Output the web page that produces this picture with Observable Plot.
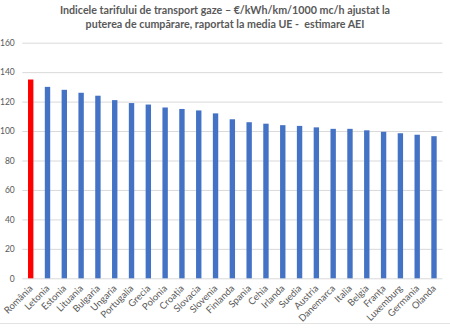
<!DOCTYPE html>
<html>
<head>
<meta charset="utf-8">
<script src="https://cdn.jsdelivr.net/npm/d3@7"></script>
<script src="https://cdn.jsdelivr.net/npm/@observablehq/plot@0.6"></script>
<style>
  html, body { margin: 0; padding: 0; background: #fff; }
  #wrap { position: relative; width: 450px; height: 328px; overflow: hidden; font-family: Lato, "Open Sans", sans-serif; }
  #title { height: 34px; box-sizing: border-box; padding-top: 3px; text-align: center; color: #595959; font-weight: bold; font-size: 10.7px; line-height: 14px; }
  #bottomline { position: absolute; left: 0; width: 450px; top: 323px; height: 1px; background: #e3e3e3; }
</style>
</head>
<body>
<div id="wrap">
  <div id="title">Indicele tarifului de transport gaze – €/kWh/km/1000 mc/h ajustat la<br>puterea de cumpărare, raportat la media UE -&nbsp; estimare AEI</div>
  <div id="chart"></div>
  <div id="bottomline"></div>
</div>
<script>
const countries = ["România","Letonia","Estonia","Lituania","Bulgaria","Ungaria","Portugalia","Grecia","Polonia","Croația","Slovacia","Slovenia","Finlanda","Spania","Cehia","Irlanda","Suedia","Austria","Danemarca","Italia","Belgia","Franța","Luxemburg","Germania","Olanda"];
const values = [135,130,128,126,124,121,119,118,116,115,114,112,108,106,105,104,103.5,102.5,101.5,101.5,100.5,99.5,98.5,97.5,96.5];
const highlight = ["România"];
const yTicks = [0,20,40,60,80,100,120,140,160];

const data = countries.map((c, i) => ({country: c, value: values[i], hl: highlight.includes(c)}));

const chart = Plot.plot({
  width: 450,
  height: 294,
  marginTop: 8.7,
  marginBottom: 49.7,
  marginLeft: 22.3,
  marginRight: 7.6,
  style: {fontFamily: "Lato, 'Open Sans', sans-serif", color: "#595959", background: "#fff"},
  x: {domain: countries, paddingInner: 0.68, paddingOuter: 0.34, round: false, label: null},
  y: {domain: [0, 160], label: null},
  marks: [
    Plot.ruleY(yTicks, {stroke: "#d9d9d9", strokeWidth: 1}),
    Plot.barY(data, {x: "country", y: "value", fill: d => d.hl ? "#FF0000" : "#4472C4"}),
    Plot.axisY({ticks: yTicks, tickSize: 0, tickPadding: 8, fontSize: 8.5, fill: "#595959", label: null}),
    Plot.axisX({tickSize: 0, tickRotate: -45, tickPadding: 8, fontSize: 9.5, fill: "#595959", label: null})
  ]
});
document.getElementById("chart").appendChild(chart);
</script>
</body>
</html>
